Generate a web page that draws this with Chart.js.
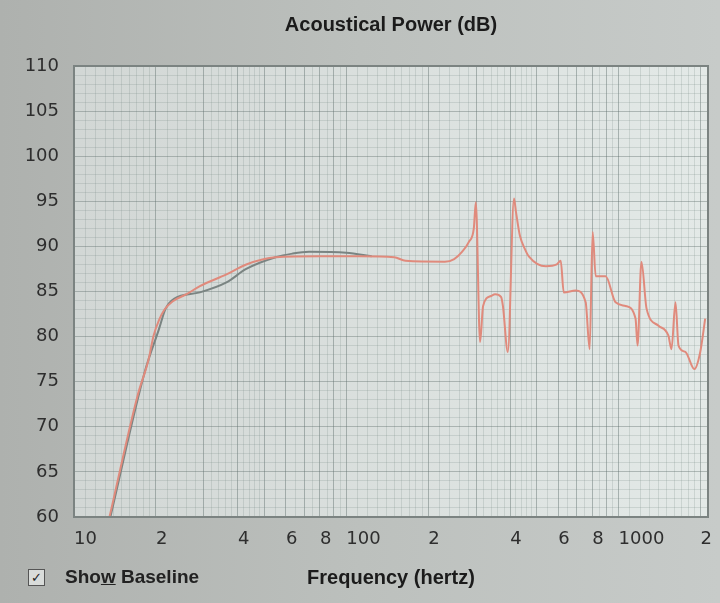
<!DOCTYPE html>
<html>
<head>
<meta charset="utf-8">
<script src="https://cdn.jsdelivr.net/npm/chart.js@4/dist/chart.umd.min.js"></script>
<style>
  html, body { margin: 0; padding: 0; }
  body {
    width: 720px; height: 603px; overflow: hidden; position: relative;
    background: linear-gradient(90deg, #aeb1ae 0%, #bcc0bd 50%, #c7cbc9 100%);
  }
  #grafica { position: absolute; left: 0; top: 0; }
  .baseline {
    position: absolute; left: 28px; top: 566px;
    font: bold 19px "Liberation Sans", Arial, sans-serif; color: #222;
  }
  .caja {
    position: absolute; left: 0; top: 3px; width: 15px; height: 15px;
    border: 1px solid #555; background: #d9dcda;
    font: bold 13px "DejaVu Sans", sans-serif; line-height: 15px; text-align: center; color: #222;
  }
  .texto { position: absolute; left: 37px; top: 0; white-space: nowrap; }
</style>
</head>
<body>
<canvas id="grafica" width="720" height="603"></canvas>
<div class="baseline"><span class="caja">✓</span><span class="texto">Sho<u>w</u> Baseline</span></div>
<script>
// Datos
const frecRoja = [13.5, 17.1, 18.8, 19.6, 20.5, 21.5, 23, 25.9, 29, 36.3, 42.9, 55, 80, 112, 150, 165, 230,
  249, 266, 282, 294, 299, 310, 318, 340, 352, 370, 376, 392, 413, 420, 434, 453, 468,
  541, 593, 613, 629, 696, 757, 783, 803, 824, 896, 975, 1061, 1154, 1174, 1213, 1267,
  1402, 1524, 1564, 1618, 1660, 1759, 1898, 1995, 2080];
const dbRoja = [60, 73.4, 77.5, 80.1, 81.8, 83.0, 83.9, 84.7, 85.6, 86.9, 88.0, 88.8, 88.9, 88.9, 88.8, 88.4, 88.3,
  88.6, 89.4, 90.5, 92.0, 94.9, 79.4, 83.4, 84.5, 84.7, 84.4, 83.4, 78.3, 95.3, 93.8, 91.2, 89.7, 88.9,
  87.8, 88.0, 88.4, 84.9, 85.1, 83.8, 78.6, 91.6, 86.7, 86.7, 83.8, 83.4, 82.0, 79.0, 88.3, 83.1,
  81.2, 80.1, 78.6, 83.8, 79.0, 78.3, 76.4, 78.3, 82.0];

const frecGris = [13.6, 18.2, 20.5, 21.7, 23.3, 29, 36.3, 42.9, 55, 63.4, 73, 100, 124];
const dbGris = [60, 76.1, 80.8, 83.1, 84.2, 84.9, 86.0, 87.5, 88.8, 89.2, 89.4, 89.3, 88.9];

const xTicks = [10, 20, 40, 60, 80, 100, 200, 400, 600, 800, 1000, 2000];
const xEtiquetas = ['10', '2', '4', '6', '8', '100', '2', '4', '6', '8', '1000', '2'];
const yEtiquetas = [60, 65, 70, 75, 80, 85, 90, 95, 100, 105, 110];

const X_MIN = 10, X_MAX = 2130;

// Líneas finas de la cuadrícula logarítmica
const lineasX = [];
[10, 100, 1000].forEach(dec => {
  for (let n = 1; n < 10; n += (n < 2 ? 0.1 : n < 5 ? 0.2 : 0.5)) {
    const v = +(n * dec).toFixed(3);
    if (v >= X_MIN && v <= X_MAX) lineasX.push(v);
  }
});
lineasX.push(X_MAX);

const puntos = (xs, ys) => xs.map((x, i) => ({ x: x, y: ys[i] }));

const fondoPlot = {
  id: 'fondoPlot',
  beforeDraw(chart) {
    const { ctx, chartArea: a } = chart;
    const g = ctx.createLinearGradient(a.left, 0, a.right, 0);
    g.addColorStop(0, '#d2d7d5');
    g.addColorStop(1, '#e3e9e7');
    ctx.save();
    ctx.fillStyle = g;
    ctx.fillRect(a.left, a.top, a.right - a.left, a.bottom - a.top);
    ctx.restore();
  },
  afterDraw(chart) {
    const { ctx, chartArea: a } = chart;
    ctx.save();
    ctx.strokeStyle = '#7b8381';
    ctx.lineWidth = 2;
    ctx.strokeRect(a.left, a.top, a.right - a.left, a.bottom - a.top);
    ctx.restore();
  }
};

const esEntero = v => {
  const d = Math.pow(10, Math.floor(Math.log10(v) + 1e-9));
  return Math.abs(v / d - Math.round(v / d)) < 1e-6;
};

new Chart(document.getElementById('grafica').getContext('2d'), {
  type: 'line',
  data: {
    datasets: [{
      label: 'Medida',
      data: puntos(frecRoja, dbRoja),
      borderColor: '#e08a7c',
      borderWidth: 2,
      pointRadius: 0,
      cubicInterpolationMode: 'monotone'
    }, {
      label: 'Baseline',
      data: puntos(frecGris, dbGris),
      borderColor: '#7a8482',
      borderWidth: 2,
      pointRadius: 0,
      cubicInterpolationMode: 'monotone'
    }]
  },
  options: {
    responsive: false,
    animation: false,
    devicePixelRatio: 1,
    layout: { padding: { left: 0, right: 11, top: 0, bottom: 0 } },
    plugins: {
      legend: { display: false },
      tooltip: { enabled: false },
      title: {
        display: true,
        fullSize: false,
        text: 'Acoustical Power (dB)',
        color: '#1b1b1b',
        font: { family: 'Liberation Sans', size: 20, weight: 'bold' },
        padding: { top: 13, bottom: 29 }
      }
    },
    scales: {
      x: {
        type: 'logarithmic',
        min: X_MIN,
        max: X_MAX,
        afterBuildTicks: s => { s.ticks = lineasX.map(v => ({ value: v })); },
        afterFit: s => { s.height = 86; },
        border: { display: false },
        grid: {
          drawTicks: false,
          color: c => esEntero(c.tick.value) ? 'rgba(95,110,108,0.45)' : 'rgba(120,135,133,0.22)'
        },
        ticks: {
          autoSkip: false,
          maxRotation: 0,
          align: 'start',
          padding: 12,
          color: '#2e2e2e',
          font: { family: 'DejaVu Sans', size: 18 },
          callback: v => {
            const i = xTicks.findIndex(t => Math.abs(t - v) < 1e-6);
            return i >= 0 ? xEtiquetas[i] : '';
          }
        },
        title: {
          display: true,
          text: 'Frequency (hertz)',
          color: '#1b1b1b',
          font: { family: 'Liberation Sans', size: 20, weight: 'bold' },
          padding: { top: 0, bottom: 13 }
        }
      },
      y: {
        min: 60,
        max: 110,
        afterFit: s => { s.width = 74; },
        border: { display: false },
        grid: {
          drawTicks: false,
          color: c => c.tick.value % 5 === 0 ? 'rgba(95,110,108,0.4)' : 'rgba(120,135,133,0.22)'
        },
        ticks: {
          stepSize: 1,
          autoSkip: false,
          padding: 15,
          color: '#2e2e2e',
          font: { family: 'DejaVu Sans', size: 18 },
          callback: v => yEtiquetas.includes(v) ? String(v) : ''
        }
      }
    }
  },
  plugins: [fondoPlot]
});
</script>
</body>
</html>
